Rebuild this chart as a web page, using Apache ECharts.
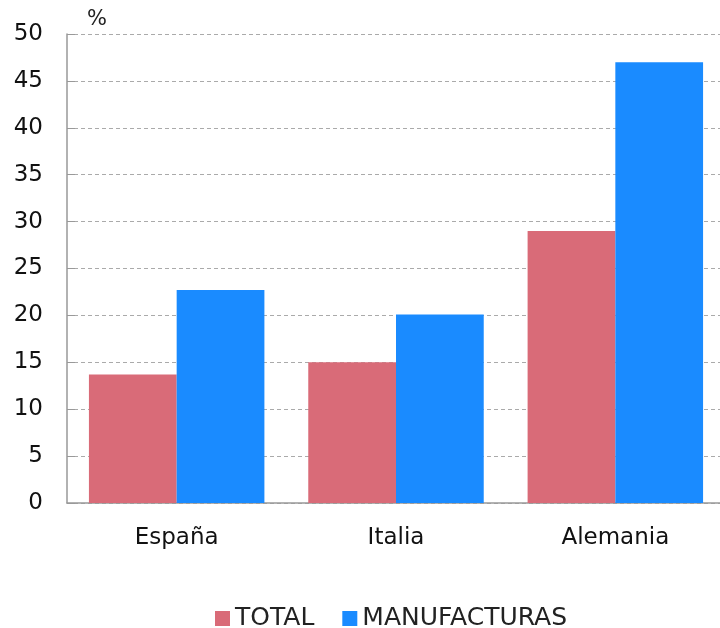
<!DOCTYPE html>
<html>
<head>
<meta charset="utf-8">
<script src="https://cdn.jsdelivr.net/npm/echarts@6/dist/echarts.min.js"></script>
<style>
  html, body { margin: 0; padding: 0; background: #fff; }
  #chart { width: 720px; height: 628px; }
</style>
</head>
<body>
<div id="chart"></div>
<script>
// datos
const paises = ['España', 'Italia', 'Alemania']
const total = [13.7, 15.0, 29.0]
const manufacturas = [22.7, 20.1, 47.0]
const seriesNames = ['TOTAL', 'MANUFACTURAS']

const colorTotal = '#d96b78'
const colorManuf = '#1a8bff'
const fontFamily = '"DejaVu Sans", "Liberation Sans", sans-serif'

const chart = echarts.init(document.getElementById('chart'))
chart.setOption({
  animation: false,
  textStyle: { fontFamily: fontFamily },
  grid: {
    left: 67,
    width: 658, // el eje sigue un poco fuera del lienzo
    top: 34,
    bottom: 125,
    outerBoundsMode: 'none'
  },
  legend: {
    data: seriesNames,
    top: 601,
    left: 210,
    itemWidth: 15,
    itemHeight: 15,
    itemGap: 28,
    icon: 'rect',
    textStyle: { fontSize: 25, color: '#222' }
  },
  xAxis: {
    type: 'category',
    data: paises,
    axisLine: { lineStyle: { color: '#999', width: 1.5 } },
    axisTick: { inside: true, length: 8, lineStyle: { color: '#999' } },
    axisLabel: { fontSize: 23, color: '#111', margin: 24 }
  },
  yAxis: {
    type: 'value',
    min: 0,
    max: 50,
    interval: 5,
    name: '%',
    nameLocation: 'end',
    nameGap: 4,
    nameTextStyle: { fontSize: 21, color: '#222', align: 'left', padding: [0, 0, 0, 20] },
    axisLine: { show: true, lineStyle: { color: '#999', width: 1.5 } },
    axisTick: { show: true, inside: true, length: 8, lineStyle: { color: '#999' } },
    axisLabel: { fontSize: 23, color: '#111', margin: 24 },
    splitLine: { lineStyle: { color: '#aaa', type: [4, 3] } }
  },
  series: [
    {
      name: seriesNames[0],
      type: 'bar',
      data: total,
      barGap: '0%',
      barCategoryGap: '20%',
      itemStyle: { color: colorTotal }
    },
    {
      name: seriesNames[1],
      type: 'bar',
      data: manufacturas,
      barGap: '0%',
      barCategoryGap: '20%',
      itemStyle: { color: colorManuf }
    }
  ]
})
</script>
</body>
</html>
